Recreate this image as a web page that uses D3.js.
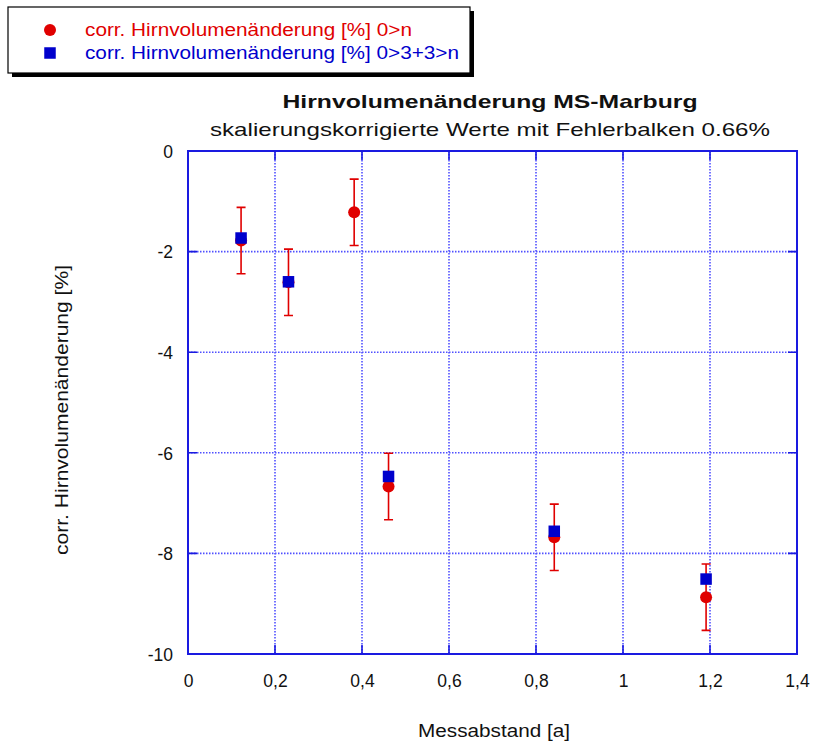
<!DOCTYPE html>
<html lang="de">
<head>
<meta charset="UTF-8">
<title>Hirnvolumenänderung MS-Marburg</title>
<script src="https://d3js.org/d3.v7.min.js"></script>
<style>
    body { margin: 0; background: #fff; font-family: "Liberation Sans", Arial, sans-serif; }
    text { font-family: "Liberation Sans", Arial, sans-serif; }
</style>
</head>
<body>
<svg id="chart" width="814" height="742"></svg>
<script>
// measured values (0>n series carries the error bars)
const xRed  = [0.122, 0.231, 0.382, 0.461, 0.842, 1.191];
const yRed  = [-1.78, -2.61, -1.22, -6.67, -7.68, -8.87];
const xBlue = [0.122, 0.231, 0.461, 0.842, 1.191];
const yBlue = [-1.73, -2.60, -6.47, -7.56, -8.51];
const errorBar = 0.66;

const xTicks = [0, 0.2, 0.4, 0.6, 0.8, 1, 1.2, 1.4];
const yTicks = [0, -2, -4, -6, -8, -10];

const seriesNames = ["corr. Hirnvolumenänderung [%] 0>n", "corr. Hirnvolumenänderung [%] 0>3+3>n"];
const title = "Hirnvolumenänderung MS-Marburg";
const subtitle = "skalierungskorrigierte Werte mit Fehlerbalken 0.66%";
const xLabel = "Messabstand [a]";
const yLabel = "corr. Hirnvolumenänderung [%]";

const red = "#e00000", blue = "#0000cc", frame = "#1a1ae0";

const margin = { left: 188, right: 17, top: 151, bottom: 88 };
const W = 814, H = 742;
const width = W - margin.left - margin.right,
      height = H - margin.top - margin.bottom;

const de = d3.formatLocale({ decimal: ",", thousands: ".", grouping: [3], currency: ["", " €"], minus: "-" });
const fmt = de.format("~g");

const svg = d3.select("#chart");
const g = svg.append("g").attr("transform", `translate(${margin.left},${margin.top})`);

const x = d3.scaleLinear().domain([0, 1.4]).range([0, width]);
const y = d3.scaleLinear().domain([-10, 0]).range([height, 0]);

// dotted grid
g.append("g").selectAll("line").data(xTicks.slice(1, -1)).join("line")
    .attr("x1", d => x(d)).attr("x2", d => x(d))
    .attr("y1", 0).attr("y2", height)
    .attr("stroke", "#5050ff").attr("stroke-width", 1.6).attr("stroke-dasharray", "1.5,1.5");
g.append("g").selectAll("line").data(yTicks.slice(1, -1)).join("line")
    .attr("y1", d => y(d)).attr("y2", d => y(d))
    .attr("x1", 0).attr("x2", width)
    .attr("stroke", "#5050ff").attr("stroke-width", 1.6).attr("stroke-dasharray", "1.5,1.5");

// inner tick marks on all four sides
const tk = 9;
g.append("g").selectAll("path").data(xTicks.slice(1, -1)).join("path")
    .attr("d", d => `M${x(d)},${height}v${-tk}M${x(d)},0v${tk}`)
    .attr("stroke", frame).attr("stroke-width", 1.6);
g.append("g").selectAll("path").data(yTicks.slice(1, -1)).join("path")
    .attr("d", d => `M0,${y(d)}h${tk}M${width},${y(d)}h${-tk}`)
    .attr("stroke", frame).attr("stroke-width", 1.6);

// frame
g.append("rect").attr("width", width).attr("height", height)
    .attr("fill", "none").attr("stroke", frame).attr("stroke-width", 2);

// axes labels (no lines, just text)
const xAxis = g.append("g").attr("transform", `translate(0,${height})`)
    .call(d3.axisBottom(x).tickValues(xTicks).tickFormat(fmt).tickSize(0).tickPadding(21));
const yAxis = g.append("g")
    .call(d3.axisLeft(y).tickValues(yTicks).tickFormat(fmt).tickSize(0).tickPadding(15));
[xAxis, yAxis].forEach(a => {
    a.select(".domain").remove();
    a.selectAll("text").attr("font-size", 17.5).attr("fill", "#111")
        .attr("font-family", "Liberation Sans, Arial, sans-serif");
});
yAxis.selectAll("text").attr("dy", "0.36em");

// error bars
const cap = 4.5;
const eb = g.append("g").attr("stroke", red).attr("stroke-width", 1.6).attr("fill", "none");
eb.selectAll("path").data(xRed.map((d, i) => [d, yRed[i]])).join("path")
    .attr("d", d => {
        const cx = x(d[0]), t = y(d[1] + errorBar), b = y(d[1] - errorBar);
        return `M${cx},${t}V${b}M${cx - cap},${t}h${2 * cap}M${cx - cap},${b}h${2 * cap}`;
    });

// red points
g.append("g").selectAll("circle").data(xRed.map((d, i) => [d, yRed[i]])).join("circle")
    .attr("cx", d => x(d[0])).attr("cy", d => y(d[1])).attr("r", 6).attr("fill", red);

// blue points
const s = 11.5;
g.append("g").selectAll("rect").data(xBlue.map((d, i) => [d, yBlue[i]])).join("rect")
    .attr("x", d => x(d[0]) - s / 2).attr("y", d => y(d[1]) - s / 2)
    .attr("width", s).attr("height", s).attr("fill", blue);

// titles
svg.append("text").attr("x", 490).attr("y", 108).attr("text-anchor", "middle")
    .attr("font-size", 19).attr("font-weight", "bold").attr("fill", "#111")
    .attr("textLength", 415).attr("lengthAdjust", "spacingAndGlyphs").text(title);
svg.append("text").attr("x", 490).attr("y", 136).attr("text-anchor", "middle")
    .attr("font-size", 19).attr("fill", "#111")
    .attr("textLength", 560).attr("lengthAdjust", "spacingAndGlyphs").text(subtitle);

// axis titles
svg.append("text").attr("x", 494).attr("y", 737).attr("text-anchor", "middle")
    .attr("font-size", 17.5).attr("fill", "#111")
    .attr("textLength", 152).attr("lengthAdjust", "spacingAndGlyphs").text(xLabel);
svg.append("text").attr("transform", "translate(68,410) rotate(-90)").attr("text-anchor", "middle")
    .attr("font-size", 17.5).attr("fill", "#111")
    .attr("textLength", 290).attr("lengthAdjust", "spacingAndGlyphs").text(yLabel);

// legend
const lg = svg.append("g");
lg.append("rect").attr("x", 12).attr("y", 11).attr("width", 462).attr("height", 66).attr("fill", "#000");
lg.append("rect").attr("x", 8).attr("y", 7).attr("width", 462).attr("height", 66)
    .attr("fill", "#fff").attr("stroke", "#000").attr("stroke-width", 1.2);
lg.append("circle").attr("cx", 50).attr("cy", 30).attr("r", 6).attr("fill", red);
lg.append("rect").attr("x", 50 - s / 2).attr("y", 53 - s / 2).attr("width", s).attr("height", s).attr("fill", blue);
lg.append("text").attr("x", 85).attr("y", 36).attr("font-size", 17.5).attr("fill", red)
    .attr("textLength", 327).attr("lengthAdjust", "spacingAndGlyphs").text(seriesNames[0]);
lg.append("text").attr("x", 85).attr("y", 59).attr("font-size", 17.5).attr("fill", blue)
    .attr("textLength", 374).attr("lengthAdjust", "spacingAndGlyphs").text(seriesNames[1]);
</script>
</body>
</html>
